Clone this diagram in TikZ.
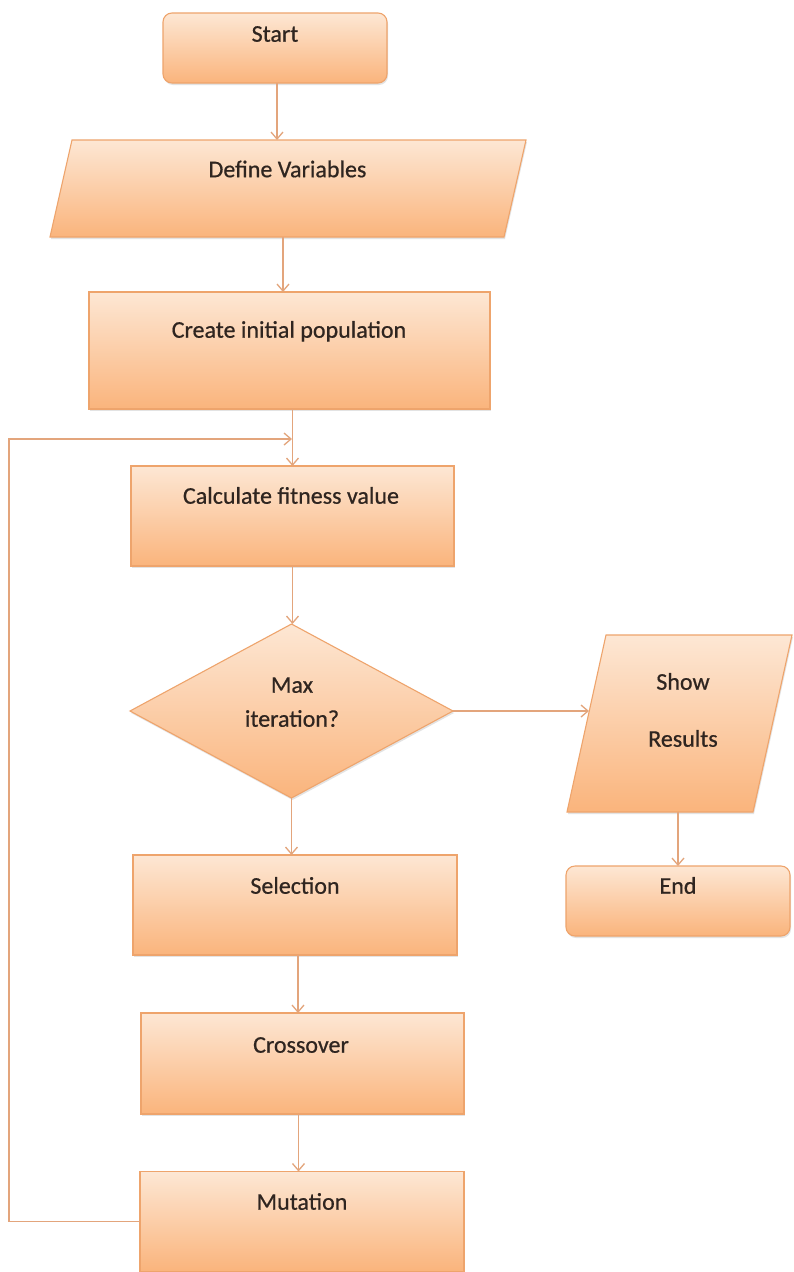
\documentclass[tikz,border=0pt]{standalone}
\usepackage{fontspec}
\setmainfont{Carlito}[FakeBold=0.6]
\newfontfamily\boxfont{Carlito}[FakeBold=0.6]
\usetikzlibrary{shapes.geometric,arrows.meta,shadows}
\definecolor{peachTop}{HTML}{FDE7D4}
\definecolor{peachBot}{HTML}{FAB47C}
\definecolor{boxedge}{HTML}{EEA46C}
\definecolor{linecol}{HTML}{E3A57C}
\definecolor{txtcol}{HTML}{2F2520}
\begin{document}
\begin{tikzpicture}[x=1pt,y=-1pt,
  boxpaint/.style={draw=boxedge, line width=1.1pt, top color=peachTop, bottom color=peachBot,
    drop shadow={opacity=0.22, shadow xshift=1pt, shadow yshift=-2pt}},
  boxbase/.style={boxpaint, inner sep=1pt, outer sep=0pt},
  termbox/.style={boxbase, rectangle, rounded corners=9pt},
  procbox/.style={boxbase, rectangle},
  frame/.style={rectangle, inner sep=0pt, outer sep=0pt},
  decbox/.style={boxbase, diamond},
  lbl/.style={font=\boxfont\fontsize{24}{29}\selectfont, text=txtcol, inner sep=0pt,
    text height=0.644em, text depth=0pt},
  conn/.style={draw=linecol, line width=1.3pt, -{Straight Barb[length=7pt,width=12pt]}}
]
\fill[white] (0,0) rectangle (793,1272);
\useasboundingbox (0,0) rectangle (793,1272);

% terminal, process and decision shapes
\node[termbox, minimum width=224pt, minimum height=70pt] (startbox) at (275,48) {};
\node[procbox, minimum width=401pt, minimum height=117pt] (create) at (289.5,350.5) {};
\node[procbox, minimum width=323pt, minimum height=100pt] (calc) at (292.5,516) {};
\node[decbox, minimum width=323pt, minimum height=174pt] (dec) at (291.5,711) {};
\node[termbox, minimum width=224pt, minimum height=70pt] (finish) at (678,901) {};
\node[procbox, minimum width=324pt, minimum height=100pt] (sel) at (295,905) {};
\node[procbox, minimum width=323pt, minimum height=101pt] (cross) at (302.5,1063.5) {};
\node[procbox, minimum width=324pt, minimum height=100pt] (mut) at (302,1221.5) {};

% input/output parallelograms: a frame node gives the anchors, the slanted outline is drawn on it
\node[frame, minimum width=476pt, minimum height=97pt] (define) at (288,188.5) {};
\path[boxpaint] ([xshift=22pt]define.north west) -- (define.north east)
  -- ([xshift=-22pt]define.south east) -- (define.south west) -- cycle;
\node[frame, minimum width=225pt, minimum height=177pt] (show) at (679.5,723.5) {};
\path[boxpaint] ([xshift=39pt]show.north west) -- (show.north east)
  -- ([xshift=-39pt]show.south east) -- (show.south west) -- cycle;

% labels
\node[lbl] (startT) at (275,38.5) {Start};
\node[lbl] (defineT) at (287.5,174) {Define Variables};
\node[lbl] (createT) at (289,334.5) {Create initial population};
\node[lbl] (calcT) at (291,500.5) {Calculate fitness value};
\node[lbl] (decT1) at (292,689.5) {Max};
\node[lbl] (decT2) at (292,723.5) {iteration?};
\node[lbl] (showT1) at (683,686.5) {Show};
\node[lbl] (showT2) at (683,743.5) {Results};
\node[lbl] (finishT) at (678,890.5) {End};
\node[lbl] (selT) at (295,890.5) {Selection};
\node[lbl] (crossT) at (301,1049.5) {Crossover};
\node[lbl] (mutT) at (302,1206.5) {Mutation};

% connectors
\coordinate (loopcorner) at (9,439);
\coordinate (merge) at (292,439);
\draw[conn] ([xshift=2pt]startbox.south) -- ([xshift=2pt]startbox.south |- define.north);
\draw[conn] ([xshift=-5pt]define.south) -- ([xshift=-5pt]define.south |- create.north);
\draw[conn] (calc.north |- create.south) -- (calc.north);
\draw[conn] (mut.west) -| (loopcorner) -- (merge);
\draw[conn] (calc.south) -- (calc.south |- dec.north);
\draw[conn] (dec.east) -- ([xshift=22pt]dec.east -| show.west);
\draw[conn] (finish.north |- show.south) -- (finish.north);
\draw[conn] (dec.south) -- (dec.south |- sel.north);
\draw[conn] ([xshift=3pt]sel.south) -- ([xshift=3pt]sel.south |- cross.north);
\draw[conn] ([xshift=-4pt]cross.south) -- ([xshift=-4pt]cross.south |- mut.north);
\end{tikzpicture}
\end{document}
